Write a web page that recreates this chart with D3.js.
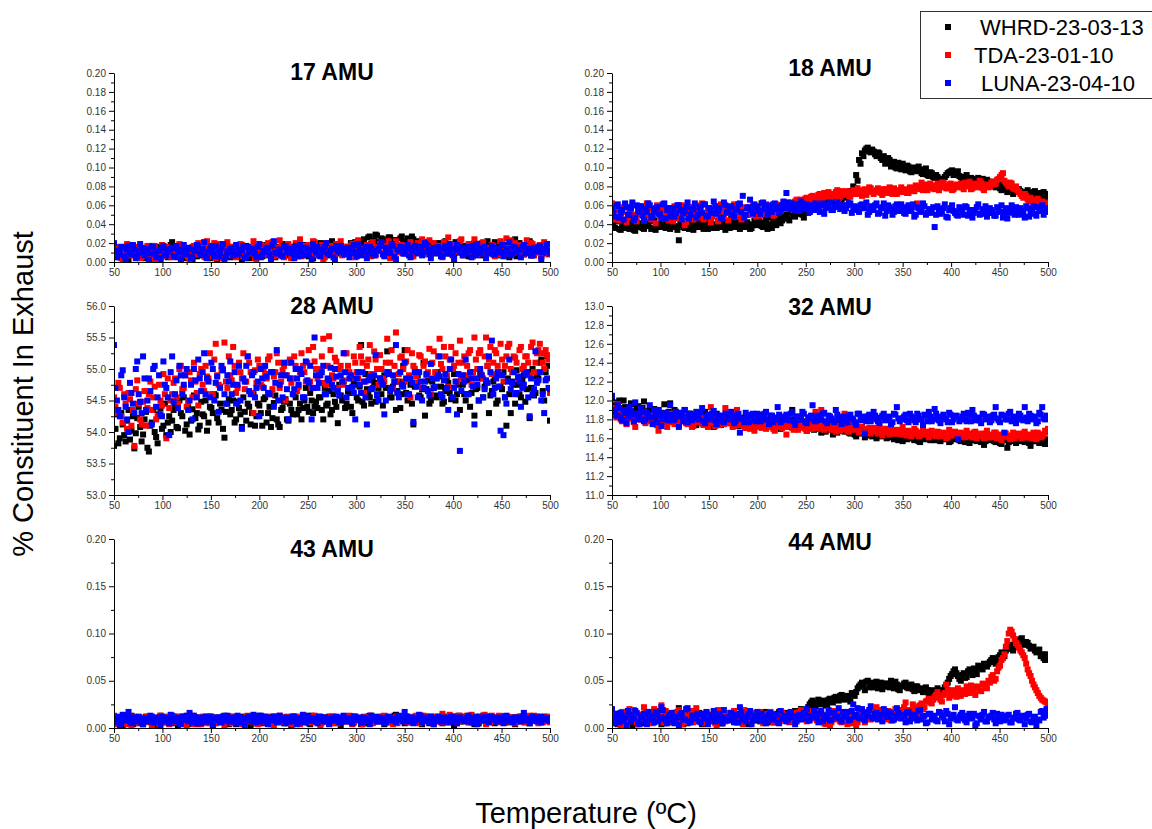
<!DOCTYPE html>
<html>
<head>
<meta charset="utf-8">
<script src="https://cdn.jsdelivr.net/npm/d3@7"></script>
<style>
  body { margin: 0; background: #fff; }
  svg { display: block; }
  text { font-family: Arial, "Liberation Sans", Helvetica, sans-serif; }
</style>
</head>
<body>
<svg id="chart" width="1152" height="829"></svg>
<script>
// Temperature ramp: readings every 3 °C from 50 °C, plus the readings taken halfway between them
const temperature = d3.range(50, 501, 3);        // 50, 53, ..., 500
const temperatureMid = d3.range(51.5, 500, 3);   // 51.5, 54.5, ..., 498.5

const seriesNames = ["WHRD-23-03-13", "TDA-23-01-10", "LUNA-23-04-10"];
const seriesColors = ["#000000", "#ff0000", "#0000ff"];

// Trace species (17, 18, 43, 44 AMU) are listed in units of 0.001 %
const amu17_whrd = [8,14,5,11,16,3,12,9,15,6,10,4,13,17,7,11,2,9,14,6,21,12,5,16,8,10,13,3,15,9,7,14,11,4,17,8,12,6,15,10,5,13,9,16,3,11,14,7,12,8,15,6,10,17,4,12,9,14,19,7,11,5,16,8,13,10,18,6,14,9,12,20,7,15,10,22,8,13,17,11,16,9,14,21,12,18,24,15,27,20,29,17,25,22,19,26,14,23,18,27,21,25,16,24,19,13,22,17,12,20,15,9,18,13,22,10,16,7,14,19,11,17,6,15,20,9,13,18,8,16,12,21,7,14,10,18,5,15,24,11,17,8,13,22,9,16,12,6,14,10,15];
const amu17_whrd_mid = [11,6,15,9,4,13,17,8,12,5,14,9,3,12,16,7,10,13,5,18,9,15,7,11,4,14,10,16,6,12,13,5,17,9,11,3,15,8,12,7,16,10,6,13,9,17,4,11,15,8,12,18,7,10,14,5,16,11,8,13,9,15,6,12,17,8,11,14,4,16,10,13,18,7,15,11,19,9,14,16,12,20,15,18,13,22,17,26,19,23,28,21,24,18,26,20,23,16,25,21,19,24,27,15,22,18,14,21,17,11,16,20,12,15,9,18,13,21,10,14,17,8,13,19,11,15,7,14,22,12,9,16,13,19,8,14,11,17,6,20,13,10,18,7,15,11,16,9,13,19];
const amu17_tda = [6,12,16,3,10,14,18,7,11,4,15,9,13,2,17,8,12,6,16,10,5,14,11,18,7,13,3,16,9,20,12,6,22,10,15,4,19,8,13,21,9,16,5,11,18,7,14,10,22,3,13,17,8,20,11,6,15,23,9,14,19,4,12,16,24,8,13,18,7,21,10,15,2,20,12,17,6,14,22,9,16,11,19,5,23,13,8,18,12,21,7,15,20,10,17,4,14,22,11,18,9,16,21,6,13,19,24,10,15,8,20,12,17,5,14,26,9,18,11,22,7,15,19,12,24,8,16,21,10,14,18,6,13,22,11,25,9,17,20,12,15,8,23,14,19,10,16,6,21,13,11];
const amu17_tda_mid = [9,15,4,12,19,7,13,10,16,5,11,17,7,14,3,12,18,9,15,6,13,8,19,10,15,5,12,17,8,14,10,16,6,13,20,9,14,4,17,11,7,15,12,19,6,13,9,16,4,11,18,8,14,10,21,7,12,16,5,13,15,9,20,11,6,17,10,14,22,8,13,18,5,11,16,9,19,12,7,15,10,17,13,20,8,14,11,18,6,16,12,19,9,15,22,7,13,17,10,14,18,11,6,16,20,12,8,15,23,10,13,17,9,21,11,15,7,18,12,24,10,14,19,6,16,12,20,9,15,11,17,13,8,19,11,15,23,10,14,18,9,16,12,20,7,13,18,11,15,8];
const amu17_luna = [20,5,11,15,3,17,8,13,6,19,10,14,2,16,9,12,4,17,7,13,15,6,11,3,18,9,14,5,12,16,8,21,4,13,10,17,6,15,2,11,14,7,18,9,12,4,16,10,13,5,19,8,11,15,3,22,9,13,6,17,10,14,4,12,18,7,15,9,3,13,16,6,11,20,8,14,2,12,17,9,13,5,15,10,19,7,12,4,16,11,8,14,21,6,13,10,17,3,12,15,9,18,5,14,11,16,7,20,13,4,15,10,12,6,17,9,14,3,18,11,7,13,16,5,12,19,9,15,4,11,17,8,14,10,6,13,21,9,15,12,5,18,10,14,7,12,16,3,11,19,9];
const amu17_luna_mid = [12,8,16,6,13,10,18,4,11,15,7,13,9,16,5,12,15,8,11,14,6,17,10,13,8,15,4,12,18,9,14,7,11,16,6,13,9,19,5,12,10,15,8,13,17,6,11,14,9,16,5,12,15,8,18,10,13,7,16,11,14,9,17,6,12,15,8,13,19,10,7,13,16,9,12,5,17,11,14,8,15,10,18,6,13,11,16,9,14,7,12,17,8,15,10,19,6,13,16,9,14,7,12,17,9,15,11,18,8,13,10,16,6,14,12,19,8,13,16,10,15,9,12,17,7,14,11,16,9,13,8,15,12,18,10,14,7,16,11,13,16,9,13,7,15,11,17,10,14,12];

const amu18_whrd = [40,36,44,34,38,42,35,39,33,37,41,35,38,43,36,34,40,37,45,39,35,42,37,23,39,36,44,38,34,41,37,45,39,35,42,38,36,43,40,34,39,46,37,41,35,43,38,40,36,44,39,42,37,45,40,36,43,48,41,46,50,44,52,48,55,51,47,56,53,58,60,55,62,66,59,64,68,61,70,66,72,68,75,80,92,108,115,118,121,116,117,112,115,108,104,110,101,106,99,103,104,97,101,95,100,96,98,93,99,91,94,89,90,86,88,92,95,97,93,96,90,87,92,85,88,84,89,86,83,87,82,85,79,83,76,80,74,78,72,75,77,73,71,76,72,74,69,73,71,68,72];
const amu18_whrd_mid = [37,43,35,40,36,44,38,34,41,39,36,42,38,35,44,39,37,42,36,40,43,38,34,40,37,42,35,39,45,37,41,35,43,38,36,40,44,37,39,42,36,41,38,44,40,37,42,35,39,41,44,38,41,35,47,42,39,46,44,49,46,53,49,51,56,50,55,52,57,60,57,63,60,65,62,67,63,69,65,72,70,74,73,78,86,104,112,120,117,119,114,116,110,112,105,108,103,100,105,98,100,102,96,99,97,101,94,97,92,95,90,92,88,87,90,94,96,92,95,91,88,90,86,89,83,87,85,88,84,85,80,83,81,78,82,77,79,76,74,77,75,70,74,73,70,75,71,70,74,70];
const amu18_tda = [62,45,55,48,58,42,52,60,47,54,50,44,62,49,56,41,53,59,46,51,57,43,55,48,60,39,52,58,45,54,49,62,47,56,42,53,59,46,51,57,44,55,61,48,53,47,58,50,56,52,59,49,55,61,53,57,50,60,54,63,56,61,58,64,60,66,62,68,64,70,66,71,68,73,69,72,70,74,67,75,71,73,69,76,72,75,70,77,74,78,72,76,74,71,77,73,75,78,72,76,74,77,73,78,75,62,80,76,82,78,80,77,83,79,84,78,82,76,81,79,83,77,80,85,78,82,79,84,76,81,80,85,83,88,92,86,82,84,78,80,74,70,72,66,68,63,65,61,64,62,60];
const amu18_tda_mid = [50,58,44,53,61,47,56,50,43,59,52,47,57,45,54,60,48,55,50,44,53,59,46,51,56,42,58,49,54,47,60,45,52,57,48,55,43,61,50,53,56,48,52,59,45,57,50,54,60,48,55,62,51,58,56,49,61,53,58,57,59,63,55,66,61,64,67,60,69,65,68,72,65,70,74,68,71,76,69,73,75,70,74,72,78,73,76,71,79,75,74,78,73,77,75,79,72,76,74,79,76,73,79,75,81,77,84,79,76,83,78,81,76,84,80,78,83,77,82,80,79,84,81,77,83,80,86,78,82,79,84,82,87,90,94,84,80,83,77,76,72,68,70,64,66,62,67,63,61,63];
const amu18_luna = [56,48,61,52,45,58,50,63,47,54,59,44,53,60,49,57,51,46,62,55,48,57,52,60,45,54,63,50,56,47,58,52,61,49,55,64,51,57,46,60,53,59,48,56,62,70,50,58,55,61,57,51,63,56,60,53,62,58,55,64,73,58,62,55,60,64,57,61,53,59,62,56,60,51,58,63,55,59,61,57,54,60,62,56,58,53,61,57,50,59,55,62,52,58,49,60,56,53,61,54,57,51,60,55,48,58,53,62,50,56,52,37,59,51,57,48,55,60,52,49,56,50,58,53,47,55,61,51,54,48,57,52,49,55,60,51,46,56,53,58,50,54,47,57,52,59,49,55,60,53,56];
const amu18_luna_mid = [52,59,47,55,62,50,57,44,60,53,49,56,62,47,54,58,51,61,46,57,53,48,60,55,51,58,46,56,62,50,55,61,48,57,52,59,54,47,63,52,58,50,55,61,53,47,57,66,51,59,54,62,57,50,59,61,56,52,60,57,63,56,59,61,54,62,58,56,60,55,59,53,62,57,60,55,58,63,56,60,57,62,52,59,55,60,57,63,53,58,60,51,57,62,54,58,50,59,55,61,52,58,54,61,50,57,55,59,52,54,58,50,56,53,61,47,57,54,50,58,53,59,49,55,52,58,50,56,59,52,55,49,58,53,47,57,52,60,50,55,57,52,59,48,56,51,58,54,50,57];

// Major gases (28, 32 AMU) in %
const amu28_whrd = [53.78,54.28,53.9,54.12,53.85,54.35,54.02,53.74,54.22,54.08,53.96,54.32,53.69,54.15,54.0,53.82,54.38,54.1,53.95,54.25,54.18,54.42,54.06,54.3,54.55,54.12,53.96,54.36,54.22,54.04,54.48,54.25,54.02,54.4,54.3,54.58,54.15,54.35,53.91,54.45,54.28,54.5,54.2,54.38,54.08,54.32,54.45,54.12,54.6,54.25,54.42,54.1,54.55,54.3,54.08,54.46,54.2,54.08,54.38,54.52,54.18,54.35,54.6,54.28,54.45,54.38,54.7,54.32,54.5,54.4,54.38,54.55,54.2,54.42,54.65,54.35,54.48,54.14,54.58,54.8,54.45,54.62,54.3,54.75,54.5,55.38,54.42,54.68,54.55,54.85,54.48,54.7,54.6,54.9,55.28,54.55,54.72,54.35,54.8,54.6,55.3,54.5,54.75,54.12,54.95,54.58,54.68,54.26,54.82,54.5,54.7,54.55,54.88,54.45,54.65,54.78,54.52,54.92,54.6,54.35,54.75,54.5,54.85,54.62,54.26,54.7,54.92,54.55,54.8,54.3,54.65,54.88,54.5,54.72,54.95,54.1,54.6,54.8,54.45,54.75,54.55,54.9,54.68,54.22,55.0,54.62,54.85,55.15,54.5,55.2,54.18];
const amu28_whrd_mid = [54.05,53.82,54.3,53.95,54.18,53.88,54.25,53.98,54.4,53.85,54.2,53.75,54.1,54.35,53.92,54.28,54.05,54.45,54.15,54.0,54.35,54.08,54.5,54.25,54.02,54.4,54.18,54.58,54.3,54.1,54.28,54.5,54.15,54.38,54.6,54.22,54.45,54.05,54.32,54.52,54.35,54.15,54.48,54.28,54.55,54.18,54.4,54.3,54.1,54.45,54.3,54.52,54.15,54.4,54.22,54.58,54.12,54.35,54.48,54.2,54.45,54.28,54.55,54.35,54.2,54.5,54.4,54.62,54.3,54.48,54.55,54.35,54.7,54.45,54.28,54.6,54.4,54.75,54.5,54.38,54.65,54.4,54.8,54.55,54.72,54.48,54.92,54.6,54.45,54.78,54.58,54.85,54.42,54.7,54.95,54.55,54.8,54.65,54.38,55.05,54.62,54.85,54.45,54.72,54.9,54.55,55.1,54.68,54.45,54.8,54.58,54.95,54.72,54.48,54.85,54.62,55.0,54.5,54.75,54.88,54.6,54.82,54.4,54.95,54.68,54.5,54.85,54.72,55.05,54.58,54.8,54.45,54.92,54.68,54.55,54.85,54.3,54.75,54.98,54.6,54.82,54.48,54.95,54.7,54.58,54.88,55.1,54.65,54.95,55.05];
const amu28_tda = [54.55,54.3,54.7,54.15,54.45,54.62,54.1,53.78,54.82,54.2,54.48,54.1,54.6,54.35,54.72,54.25,54.5,54.92,53.9,54.38,54.6,54.85,54.45,55.05,54.7,54.4,54.95,54.55,54.8,54.42,55.0,54.65,54.88,55.25,54.6,55.4,54.75,54.98,55.42,54.7,54.9,55.35,54.62,55.1,54.85,54.68,55.2,54.95,54.3,54.78,55.05,54.72,54.92,55.15,54.6,54.88,55.25,54.7,54.98,54.5,55.1,54.78,55.2,54.65,54.95,55.05,54.8,55.3,54.7,55.12,54.85,55.0,55.48,54.75,55.52,54.9,55.18,54.7,55.05,54.82,55.25,54.95,54.7,55.1,54.85,55.2,54.62,55.05,55.38,54.9,55.15,54.75,55.0,54.8,55.48,55.1,54.68,55.58,54.92,55.2,54.8,55.3,54.55,55.05,54.88,55.22,54.7,55.12,54.95,54.6,55.28,54.85,55.48,55.0,55.2,54.72,55.35,55.05,54.8,55.45,55.1,54.9,55.25,54.75,55.5,55.0,55.3,54.85,55.5,55.15,54.92,55.3,55.05,55.4,54.8,55.2,55.4,54.95,55.18,54.85,55.35,55.05,55.2,54.9,55.42,55.1,55.3,55.25,55.0,55.22,54.62];
const amu28_tda_mid = [54.4,54.78,54.25,54.6,54.05,54.52,54.35,54.68,54.45,54.12,54.65,54.38,54.8,54.55,54.2,54.75,54.42,54.6,54.85,54.5,54.78,54.55,55.0,54.68,54.9,54.48,54.82,55.1,54.62,54.92,54.75,55.05,54.85,54.6,55.15,54.9,54.72,55.0,54.8,55.2,54.82,55.05,54.7,54.95,55.25,54.8,55.1,54.62,54.98,55.15,54.75,55.0,54.85,55.2,54.68,54.95,55.1,54.8,55.05,54.9,55.15,54.85,55.05,54.72,55.25,54.95,55.1,54.8,55.35,55.0,54.9,55.2,54.78,55.05,55.3,54.85,55.12,55.0,54.75,55.25,55.05,54.85,55.2,54.95,55.35,55.1,54.8,55.15,54.92,55.28,55.0,55.22,54.85,55.1,54.95,55.3,55.05,54.8,55.18,55.0,55.12,54.9,55.25,55.0,54.78,55.2,55.05,54.9,55.32,55.1,54.95,55.2,55.08,55.35,54.9,55.15,55.0,55.25,55.1,54.85,55.2,55.05,55.3,54.95,55.15,55.25,54.9,55.2,55.05,55.35,55.1,55.25,54.95,55.15,55.05,55.35,55.0,55.2,55.1,55.3,55.0,55.2,55.1,55.35,54.95,55.25,55.4,55.1,55.3,55.15];
const amu28_luna = [55.38,54.5,54.25,54.98,54.4,54.0,54.62,54.3,55.12,54.48,55.2,54.35,54.85,54.12,55.05,54.55,54.28,55.12,54.7,53.95,55.2,54.6,54.38,54.9,54.75,55.0,54.5,54.2,54.82,55.15,54.65,55.25,54.85,54.55,55.0,54.78,54.32,55.05,54.6,54.9,55.12,54.75,54.45,55.05,54.05,54.8,55.2,54.6,54.95,54.7,54.25,54.85,55.05,54.62,54.95,54.4,55.3,54.75,54.55,54.9,54.2,55.1,54.68,54.85,55.0,54.55,55.12,54.78,54.2,55.5,54.7,54.9,55.05,54.6,54.82,54.75,55.0,54.65,54.9,55.25,54.55,54.85,54.72,54.2,54.95,54.62,54.8,54.12,54.88,54.7,55.22,54.5,54.8,54.28,54.95,54.65,54.9,55.38,54.55,54.75,55.1,54.6,54.85,54.16,54.72,54.95,54.5,54.8,54.65,55.08,54.7,54.85,55.2,54.55,54.92,54.35,55.15,54.7,54.28,53.7,54.9,55.15,54.6,54.85,54.12,54.75,55.0,54.55,54.82,55.2,55.45,54.7,54.95,54.02,53.95,54.45,55.15,54.78,54.6,54.88,54.4,54.75,54.95,54.25,54.6,55.28,54.82,54.5,54.3,54.85,54.68];
const amu28_luna_mid = [54.7,54.35,54.9,54.55,54.2,54.78,54.45,55.0,54.6,54.3,54.85,54.5,54.65,55.0,54.4,54.9,54.25,54.75,54.55,54.95,54.48,54.82,55.05,54.6,54.9,54.35,54.75,55.0,54.55,54.85,54.95,54.6,54.8,55.1,54.5,54.88,54.7,54.98,54.45,54.8,54.6,54.95,54.75,54.5,54.85,55.05,54.65,54.9,54.55,54.8,55.0,54.7,54.88,54.6,54.95,54.78,54.5,54.9,55.1,54.68,54.85,54.6,55.0,54.75,54.92,54.55,54.82,55.05,54.7,54.9,54.78,54.95,54.6,54.85,55.02,54.7,54.88,54.58,54.8,54.95,54.7,54.9,54.62,54.85,54.75,54.95,54.55,54.82,54.68,54.9,54.6,54.85,54.75,54.5,54.92,54.7,54.8,54.62,54.95,54.72,54.85,54.6,54.78,54.95,54.55,54.8,54.7,54.92,54.58,54.85,54.72,54.9,54.6,54.82,54.7,55.0,54.55,54.8,54.92,54.65,54.8,54.6,54.95,54.72,54.85,54.5,54.9,54.68,54.78,54.95,54.6,54.85,54.72,54.9,54.55,54.8,54.68,54.95,54.62,54.8,54.7,54.92,54.55,54.85,54.68,54.78,54.95,54.6,54.82,54.7];

const amu32_whrd = [12.02,11.92,11.98,11.85,12.0,11.9,11.82,11.96,11.88,11.94,11.86,11.99,11.8,11.92,11.84,11.78,11.9,11.82,11.96,11.85,11.97,11.8,11.88,11.75,11.84,11.9,11.78,11.86,11.81,11.74,11.85,11.79,11.88,11.76,11.83,11.72,11.86,11.8,11.77,11.84,11.78,11.82,11.74,11.88,11.8,11.75,11.71,11.84,11.79,11.73,11.81,11.76,11.85,11.72,11.78,11.83,11.74,11.8,11.7,11.77,11.82,11.74,11.9,11.76,11.71,11.8,11.75,11.68,11.78,11.73,11.7,11.76,11.66,11.74,11.69,11.72,11.64,11.75,11.68,11.71,11.67,11.73,11.65,11.7,11.62,11.68,11.72,11.61,11.66,11.64,11.69,11.6,11.66,11.63,11.67,11.61,11.65,11.59,11.64,11.62,11.57,11.63,11.6,11.65,11.58,11.62,11.56,11.64,11.59,11.61,11.63,11.58,11.62,11.57,11.64,11.6,11.56,11.62,11.59,11.61,11.57,11.63,11.59,11.55,11.61,11.58,11.62,11.56,11.53,11.6,11.58,11.62,11.56,11.6,11.54,11.59,11.5,11.57,11.61,11.55,11.58,11.6,11.56,11.62,11.52,11.59,11.57,11.55,11.6,11.54,11.58];
const amu32_whrd_mid = [11.95,11.88,12.0,11.84,11.93,11.87,11.97,11.83,11.91,11.86,11.92,11.82,11.89,11.84,11.91,11.8,11.87,11.83,11.79,11.88,11.83,11.9,11.79,11.85,11.8,11.77,11.86,11.82,11.78,11.84,11.8,11.75,11.83,11.79,11.86,11.78,11.81,11.74,11.82,11.79,11.76,11.83,11.8,11.73,11.79,11.82,11.76,11.8,11.74,11.78,11.77,11.82,11.74,11.79,11.76,11.72,11.81,11.75,11.78,11.73,11.77,11.72,11.8,11.7,11.76,11.73,11.78,11.71,11.74,11.69,11.74,11.7,11.72,11.67,11.73,11.69,11.71,11.66,11.7,11.68,11.71,11.66,11.69,11.64,11.7,11.65,11.67,11.63,11.68,11.62,11.65,11.67,11.62,11.66,11.6,11.64,11.62,11.65,11.58,11.63,11.61,11.59,11.64,11.6,11.62,11.57,11.61,11.6,11.63,11.58,11.6,11.62,11.58,11.63,11.59,11.61,11.57,11.6,11.63,11.58,11.6,11.56,11.62,11.58,11.6,11.57,11.59,11.61,11.57,11.59,11.6,11.57,11.61,11.55,11.58,11.62,11.56,11.59,11.58,11.6,11.57,11.61,11.58,11.55,11.6,11.57,11.59,11.62,11.56,11.59];
const amu32_tda = [11.92,11.85,11.96,11.8,11.88,11.75,11.9,11.82,11.72,11.86,11.8,11.88,11.78,11.84,11.76,11.9,11.68,11.82,11.79,11.72,11.86,11.77,11.83,11.74,11.8,11.88,11.75,11.81,11.73,11.79,11.84,11.76,11.8,11.72,11.93,11.78,11.82,11.74,11.79,11.92,11.77,11.81,11.73,11.9,11.76,11.8,11.71,11.78,11.74,11.68,11.79,11.73,11.77,11.7,11.75,11.8,11.68,11.76,11.72,11.74,11.64,11.78,11.71,11.75,11.69,11.8,11.72,11.68,11.75,11.7,11.88,11.72,11.9,11.69,11.75,11.71,11.77,11.67,11.73,11.7,11.86,11.68,11.74,11.7,11.76,11.66,11.72,11.69,11.82,11.65,11.71,11.67,11.74,11.63,11.7,11.68,11.73,11.65,11.69,11.66,11.72,11.64,11.68,11.62,11.7,11.66,11.63,11.69,11.65,11.61,11.68,11.64,11.67,11.62,11.66,11.6,11.69,11.64,11.67,11.63,11.66,11.62,11.68,11.64,11.61,11.67,11.63,11.65,11.6,11.68,11.64,11.61,11.66,11.63,11.58,11.65,11.62,11.59,11.66,11.62,11.65,11.6,11.67,11.63,11.61,11.66,11.59,11.64,11.62,11.68,11.7];
const amu32_tda_mid = [11.88,11.82,11.9,11.78,11.85,11.81,11.87,11.77,11.84,11.8,11.84,11.76,11.83,11.8,11.86,11.74,11.81,11.77,11.83,11.78,11.8,11.75,11.82,11.78,11.84,11.76,11.79,11.72,11.8,11.77,11.79,11.74,11.81,11.76,11.78,11.73,11.8,11.77,11.75,11.79,11.76,11.72,11.79,11.74,11.77,11.73,11.75,11.7,11.77,11.72,11.75,11.71,11.74,11.77,11.72,11.7,11.76,11.73,11.71,11.75,11.72,11.74,11.69,11.73,11.71,11.75,11.7,11.72,11.74,11.71,11.73,11.7,11.74,11.71,11.72,11.69,11.73,11.7,11.68,11.72,11.7,11.67,11.72,11.69,11.71,11.67,11.7,11.66,11.71,11.68,11.69,11.65,11.68,11.66,11.7,11.64,11.67,11.65,11.68,11.64,11.67,11.63,11.66,11.64,11.68,11.62,11.66,11.64,11.67,11.63,11.65,11.62,11.66,11.63,11.65,11.61,11.66,11.63,11.64,11.62,11.64,11.61,11.65,11.62,11.66,11.6,11.64,11.62,11.65,11.61,11.63,11.66,11.6,11.64,11.62,11.65,11.61,11.63,11.6,11.64,11.62,11.65,11.61,11.64,11.6,11.63,11.66,11.61,11.64,11.66];
const amu32_luna = [12.05,11.88,11.95,11.82,11.9,11.76,11.93,11.85,11.98,11.8,11.92,11.78,11.87,11.95,11.75,11.84,11.9,11.73,11.86,11.82,11.95,11.79,11.88,11.72,11.84,11.9,11.77,11.85,11.81,11.88,11.8,11.92,11.76,11.85,11.82,11.89,11.75,11.84,11.78,11.86,11.82,11.88,11.76,11.84,11.66,11.8,11.87,11.77,11.85,11.79,11.86,11.78,11.83,11.88,11.75,11.84,11.8,11.93,11.77,11.82,11.85,11.79,11.88,11.74,11.83,11.8,11.86,11.76,11.82,11.95,11.78,11.84,11.8,11.87,11.76,11.83,11.79,11.9,11.81,11.75,11.82,11.77,11.85,11.8,11.74,11.86,11.79,11.65,11.83,11.78,11.88,11.8,11.76,11.84,11.79,11.82,11.75,11.86,11.93,11.78,11.81,11.85,11.77,11.83,11.79,11.86,11.8,11.74,11.84,11.88,11.78,11.91,11.82,11.76,11.85,11.8,11.87,11.77,11.83,11.59,11.8,11.86,11.78,11.84,11.9,11.79,11.82,11.76,11.85,11.81,11.77,11.84,11.93,11.79,11.85,11.66,11.8,11.88,11.82,11.76,11.86,11.8,11.93,11.78,11.84,11.81,11.76,11.87,11.93,11.8,11.82];
const amu32_luna_mid = [11.9,11.84,11.92,11.79,11.87,11.83,11.89,11.78,11.86,11.82,11.88,11.8,11.85,11.82,11.9,11.77,11.84,11.8,11.87,11.79,11.85,11.8,11.83,11.87,11.78,11.82,11.86,11.79,11.84,11.81,11.87,11.78,11.83,11.8,11.86,11.79,11.84,11.81,11.77,11.85,11.8,11.84,11.78,11.86,11.81,11.77,11.83,11.8,11.86,11.78,11.83,11.79,11.86,11.8,11.84,11.77,11.82,11.85,11.79,11.83,11.8,11.86,11.78,11.83,11.8,11.88,11.77,11.82,11.84,11.79,11.83,11.8,11.86,11.78,11.84,11.81,11.77,11.85,11.8,11.83,11.79,11.84,11.81,11.77,11.86,11.8,11.83,11.78,11.85,11.81,11.84,11.78,11.82,11.86,11.8,11.83,11.77,11.85,11.81,11.8,11.83,11.79,11.86,11.81,11.77,11.84,11.8,11.85,11.78,11.83,11.8,11.86,11.79,11.83,11.81,11.77,11.85,11.8,11.84,11.78,11.83,11.8,11.87,11.78,11.84,11.81,11.79,11.86,11.8,11.83,11.79,11.85,11.81,11.77,11.84,11.8,11.86,11.78,11.83,11.81,11.84,11.79,11.82,11.86,11.8,11.83,11.78,11.85,11.81,11.84];

const amu43_whrd = [12,6,9,3,11,7,13,5,8,10,4,12,7,10,2,9,13,6,11,5,8,12,3,10,7,13,5,9,11,4,10,6,12,8,3,11,7,9,13,5,8,11,4,10,6,12,9,3,11,7,13,5,9,10,4,12,7,8,11,6,10,3,12,8,6,11,9,5,13,7,9,4,11,7,12,6,10,8,3,12,7,10,5,12,9,4,11,8,13,6,10,7,12,4,9,11,6,14,8,10,5,12,9,7,11,13,4,10,8,12,6,9,11,5,12,8,10,3,11,7,12,9,6,10,4,11,8,13,7,9,11,5,10,8,12,6,9,11,4,10,7,12,9,5,11,8,10,6,12,9,11];
const amu43_whrd_mid = [8,11,5,10,7,12,4,9,11,6,10,7,12,5,9,11,6,10,8,12,5,9,11,7,10,4,12,8,9,11,6,10,8,12,5,9,11,7,10,4,12,8,9,11,6,10,7,12,5,9,11,8,10,6,12,9,7,11,5,10,8,12,6,9,11,7,10,4,12,8,10,6,11,9,5,12,8,10,7,11,9,12,6,10,8,11,5,12,9,7,11,8,10,12,6,9,13,7,10,8,12,6,9,11,7,10,8,12,5,11,9,7,12,8,10,6,11,9,13,7,10,12,7,9,11,5,10,8,12,9,7,11,9,12,6,10,8,11,7,12,9,6,11,8,10,12,7,9,11,8];
const amu43_tda = [13,4,8,11,6,10,3,12,7,9,5,11,8,2,10,7,13,6,9,4,11,7,12,5,9,3,10,13,6,8,4,10,7,12,9,5,11,8,3,10,12,6,9,11,4,8,13,7,10,5,9,12,6,8,11,3,10,13,7,9,5,11,8,12,4,9,7,10,6,13,8,3,11,9,6,12,10,5,8,11,7,13,4,9,10,6,12,8,11,5,9,11,7,13,6,10,4,12,8,9,11,6,10,8,13,5,9,12,7,10,4,11,8,15,6,10,9,12,5,13,8,11,6,14,9,7,12,10,4,11,13,8,10,6,12,9,7,11,5,10,12,6,9,13,8,11,5,10,7,12,6];
const amu43_tda_mid = [9,6,11,8,4,12,7,10,5,11,8,12,6,9,11,4,10,7,12,8,6,10,9,12,5,11,8,4,10,7,12,8,5,11,9,6,10,12,7,9,5,11,8,10,6,12,9,7,11,4,10,7,12,9,5,11,8,10,6,12,9,4,11,7,10,13,6,9,12,8,11,6,10,8,12,5,9,11,7,10,8,12,6,10,9,4,11,8,13,7,10,9,12,6,11,8,10,5,12,9,7,11,9,12,6,10,13,8,11,7,12,9,6,11,10,14,8,12,7,11,9,13,11,7,10,12,8,14,9,6,11,8,13,10,7,12,9,6,11,10,8,12,7,10,13,9,11,6,10,8];
const amu43_luna = [6,10,3,14,8,17,5,11,7,9,4,10,7,12,6,9,3,11,8,5,13,7,10,4,12,9,16,6,11,8,5,10,7,12,4,9,11,6,8,13,7,10,5,12,9,3,11,8,14,6,10,7,12,4,9,11,6,13,8,5,10,7,12,4,9,14,6,11,8,10,5,12,7,9,4,11,8,10,6,13,7,10,5,12,9,6,11,8,4,10,12,7,9,5,11,8,10,6,13,9,17,7,11,5,9,14,6,10,8,12,4,9,11,7,10,6,12,8,5,11,9,7,13,6,10,4,11,8,12,6,9,11,7,10,5,13,8,6,11,9,7,16,10,5,12,8,9,6,11,10,8];
const amu43_luna_mid = [9,12,6,10,13,7,11,8,12,5,10,8,13,6,11,9,12,7,10,14,8,11,6,12,9,7,10,13,5,11,9,12,7,10,8,11,6,12,9,7,11,8,13,6,10,9,12,7,11,8,13,9,7,11,8,12,6,10,9,11,7,12,9,10,6,11,13,8,10,7,12,9,11,7,10,8,12,6,11,9,10,7,12,9,11,6,10,8,13,9,7,11,10,6,12,9,8,11,10,7,12,9,11,7,10,13,8,11,6,10,9,12,7,11,8,10,12,6,11,9,8,11,10,6,12,9,11,8,10,12,10,7,11,9,12,8,10,6,11,9,12,8,10,9,11,7,12,9,10,8];

const amu44_whrd = [8,14,4,11,17,6,12,3,15,9,13,5,10,16,7,12,18,4,11,8,14,6,10,21,9,13,5,15,8,11,16,4,12,9,14,7,17,10,5,13,8,15,11,6,13,9,16,4,12,10,14,7,11,17,9,13,6,15,10,12,16,9,13,18,11,20,14,17,25,29,22,30,26,28,24,31,27,33,29,35,30,34,28,36,38,44,48,40,50,46,43,49,45,41,47,44,50,42,46,40,45,48,42,46,39,44,41,38,43,36,40,37,42,35,39,45,52,57,62,55,50,58,54,62,56,60,66,63,68,65,70,74,68,75,80,76,84,88,82,90,92,95,88,90,84,86,80,83,78,72,76];
const amu44_whrd_mid = [12,5,15,9,13,7,16,10,4,14,8,12,17,6,11,14,9,13,5,15,10,16,7,12,4,14,11,8,17,9,13,6,15,11,8,12,16,5,10,14,9,13,7,15,11,5,14,10,16,8,12,15,9,13,6,14,10,17,8,13,11,15,12,16,14,19,16,22,27,24,27,25,29,24,30,28,32,30,34,31,33,31,37,34,42,46,44,49,43,48,46,42,48,44,47,43,45,49,41,44,47,43,45,41,44,40,42,38,40,37,39,36,40,38,43,48,55,60,58,52,56,53,60,58,63,57,64,62,66,68,72,70,73,77,78,82,86,84,87,92,94,90,91,87,85,82,81,76,74,78];
const amu44_tda = [18,6,12,3,15,9,20,7,13,4,11,22,8,14,5,17,10,24,6,12,15,7,11,19,4,13,9,16,6,21,10,14,5,12,8,17,3,11,15,7,13,9,18,6,12,4,16,10,7,14,11,17,5,13,9,15,7,12,18,8,14,6,11,16,9,19,12,7,15,10,13,17,8,5,14,3,18,9,12,6,11,4,15,7,3,20,13,6,17,9,14,22,10,16,12,18,8,15,11,19,13,27,9,17,21,14,24,20,28,31,26,33,38,30,35,46,32,40,36,42,34,38,44,37,41,35,43,39,46,42,48,56,52,64,72,78,92,104,98,90,85,80,74,62,55,46,40,34,30,28,25];
const amu44_tda_mid = [10,15,5,17,8,13,11,19,6,14,9,16,12,7,20,10,14,6,18,11,13,8,17,10,14,6,12,18,9,15,12,7,16,10,13,5,19,8,14,11,16,10,7,14,11,19,8,13,9,16,12,8,15,10,17,6,13,11,16,9,11,15,8,13,17,10,14,9,18,12,8,15,11,4,9,6,13,16,7,12,8,14,5,10,6,16,9,12,15,11,17,12,19,14,9,16,13,20,12,17,22,15,19,25,18,23,26,22,29,27,30,35,32,28,37,40,34,38,33,39,40,36,42,45,38,44,40,47,43,50,54,50,60,66,74,86,100,102,94,88,82,77,68,58,50,43,37,32,29,27];
const amu44_luna = [20,5,12,16,8,3,14,10,18,6,11,15,4,13,9,17,7,22,10,5,14,8,12,3,16,9,21,6,13,11,7,15,10,4,12,18,8,14,5,11,9,16,6,13,22,10,7,15,4,12,17,8,11,5,14,9,13,6,18,10,7,15,11,4,13,9,16,20,8,12,14,6,18,10,13,8,16,11,21,7,12,17,9,25,14,11,20,8,15,23,10,16,13,7,18,12,15,9,21,11,14,6,17,10,13,8,19,12,5,15,9,13,7,16,11,18,4,12,22,8,14,10,6,15,11,3,13,9,17,7,12,16,5,11,14,8,13,6,10,15,9,12,4,14,7,11,3,8,18,13,16];
const amu44_luna_mid = [9,15,6,13,11,18,7,12,16,4,13,8,17,10,6,14,11,19,8,12,16,5,11,14,9,20,7,13,10,15,6,12,17,9,13,7,15,11,19,8,12,10,14,6,16,9,12,18,8,13,10,15,7,12,16,9,14,5,11,13,9,17,12,7,14,10,15,8,13,18,11,15,7,13,19,9,16,12,10,17,14,8,18,12,21,10,16,13,19,11,15,9,14,20,12,17,8,13,16,10,12,16,7,14,11,18,9,13,6,15,11,8,17,13,7,15,10,14,9,12,16,8,13,10,15,5,12,14,7,11,13,9,15,7,12,10,14,6,11,16,8,13,10,15,6,12,9,17,11,20];

// Axis tick labels
const xTickLabels = [50, 100, 150, 200, 250, 300, 350, 400, 450, 500];
const traceTicks = [0, 0.02, 0.04, 0.06, 0.08, 0.10, 0.12, 0.14, 0.16, 0.18, 0.20];
const traceTicksCoarse = [0, 0.05, 0.10, 0.15, 0.20];
const n2Ticks = [53.0, 53.5, 54.0, 54.5, 55.0, 55.5, 56.0];
const o2Ticks = [11.0, 11.2, 11.4, 11.6, 11.8, 12.0, 12.2, 12.4, 12.6, 12.8, 13.0];

const milli = a => a.map(v => v / 1000);
// Pair each reading with its temperature (grid readings followed by the in-between readings)
const readings = (main, mid, scale = 1) =>
  main.map((v, i) => [temperature[i], v * scale])
    .concat(mid.map((v, k) => [temperatureMid[k], v * scale]));

// Panel layout
const colX = [114, 612];
const rowY = [73, 306, 539];
const plotW = 436, plotH = 189;
const m = 0.001;

const panels = [
  { title: "17 AMU", col: 0, row: 0, titleY: 80,
    series: [readings(amu17_whrd, amu17_whrd_mid, m), readings(amu17_tda, amu17_tda_mid, m), readings(amu17_luna, amu17_luna_mid, m)],
    domain: [0, 0.2], ticks: traceTicks, fmt: ".2f" },
  { title: "18 AMU", col: 1, row: 0, titleY: 76,
    series: [readings(amu18_whrd, amu18_whrd_mid, m), readings(amu18_tda, amu18_tda_mid, m), readings(amu18_luna, amu18_luna_mid, m)],
    domain: [0, 0.2], ticks: traceTicks, fmt: ".2f" },
  { title: "28 AMU", col: 0, row: 1, titleY: 314,
    series: [readings(amu28_whrd, amu28_whrd_mid), readings(amu28_tda, amu28_tda_mid), readings(amu28_luna, amu28_luna_mid)],
    domain: [53, 56], ticks: n2Ticks, fmt: ".1f" },
  { title: "32 AMU", col: 1, row: 1, titleY: 315,
    series: [readings(amu32_whrd, amu32_whrd_mid), readings(amu32_tda, amu32_tda_mid), readings(amu32_luna, amu32_luna_mid)],
    domain: [11, 13], ticks: o2Ticks, fmt: ".1f" },
  { title: "43 AMU", col: 0, row: 2, titleY: 557,
    series: [readings(amu43_whrd, amu43_whrd_mid, m), readings(amu43_tda, amu43_tda_mid, m), readings(amu43_luna, amu43_luna_mid, m)],
    domain: [0, 0.2], ticks: traceTicksCoarse, fmt: ".2f" },
  { title: "44 AMU", col: 1, row: 2, titleY: 550,
    series: [readings(amu44_whrd, amu44_whrd_mid, m), readings(amu44_tda, amu44_tda_mid, m), readings(amu44_luna, amu44_luna_mid, m)],
    domain: [0, 0.2], ticks: traceTicksCoarse, fmt: ".2f" }
];

const svg = d3.select("#chart");
const FONT = 'Arial, "Liberation Sans", Helvetica, sans-serif';
const markerSize = 6;

function midpoints(arr) {
  const out = [];
  for (let i = 0; i < arr.length - 1; i++) out.push((arr[i] + arr[i + 1]) / 2);
  return out;
}

function styleAxis(g) {
  g.select(".domain").attr("stroke", "#000").attr("stroke-width", 1);
  g.selectAll(".tick line").attr("stroke", "#000").attr("stroke-width", 1);
  g.selectAll(".tick text").attr("font-family", FONT).attr("font-size", 10).attr("fill", "#333");
}

panels.forEach((p, pi) => {
  const left = colX[p.col], top = rowY[p.row];
  const x = d3.scaleLinear().domain([50, 500]).range([left, left + plotW]);
  const y = d3.scaleLinear().domain(p.domain).range([top + plotH, top]);

  const clipId = "clip" + pi;
  svg.append("clipPath").attr("id", clipId)
    .append("rect").attr("x", left).attr("y", top).attr("width", plotW).attr("height", plotH);

  const marks = svg.append("g").attr("clip-path", `url(#${clipId})`);
  p.series.forEach((pts, si) => {
    marks.append("g").selectAll("rect")
      .data(pts)
      .join("rect")
      .attr("x", d => x(d[0]) - markerSize / 2)
      .attr("y", d => y(d[1]) - markerSize / 2)
      .attr("width", markerSize)
      .attr("height", markerSize)
      .attr("fill", seriesColors[si]);
  });

  // minor ticks
  svg.append("g").attr("transform", `translate(${left},0)`)
    .call(d3.axisLeft(y).tickValues(midpoints(p.ticks)).tickSize(3).tickFormat(""))
    .call(g => g.select(".domain").remove())
    .call(g => g.selectAll("line").attr("stroke", "#000"));
  svg.append("g").attr("transform", `translate(0,${top + plotH})`)
    .call(d3.axisBottom(x).tickValues(midpoints(xTickLabels)).tickSize(3).tickFormat(""))
    .call(g => g.select(".domain").remove())
    .call(g => g.selectAll("line").attr("stroke", "#000"));

  // major axes
  svg.append("g").attr("transform", `translate(${left},0)`)
    .call(d3.axisLeft(y).tickValues(p.ticks).tickSize(5).tickSizeOuter(0).tickPadding(3).tickFormat(d3.format(p.fmt)))
    .call(styleAxis);
  svg.append("g").attr("transform", `translate(0,${top + plotH})`)
    .call(d3.axisBottom(x).tickValues(xTickLabels).tickSize(5).tickSizeOuter(0).tickPadding(2).tickFormat(d3.format("d")))
    .call(styleAxis);

  svg.append("text")
    .attr("x", left + plotW / 2)
    .attr("y", p.titleY)
    .attr("text-anchor", "middle")
    .attr("font-family", FONT)
    .attr("font-weight", "bold")
    .attr("font-size", 23)
    .attr("fill", "#000")
    .text(p.title);
});

// Axis titles
svg.append("text")
  .attr("x", 586).attr("y", 823)
  .attr("text-anchor", "middle")
  .attr("font-family", FONT).attr("font-size", 29).attr("fill", "#000")
  .text("Temperature (ºC)");

svg.append("text")
  .attr("transform", "translate(33,394) rotate(-90)")
  .attr("text-anchor", "middle")
  .attr("font-family", FONT).attr("font-size", 29).attr("fill", "#000")
  .text("% Constituent In Exhaust");

// Legend
const legend = svg.append("g");
legend.append("rect")
  .attr("x", 920.5).attr("y", 11.5).attr("width", 240).attr("height", 87)
  .attr("fill", "#fff").attr("stroke", "#333").attr("stroke-width", 1);
const legendTextX = [980, 974, 981];
seriesNames.forEach((name, i) => {
  const cy = 27 + i * 28;
  legend.append("rect")
    .attr("x", 945).attr("y", cy - 3).attr("width", 6).attr("height", 6)
    .attr("fill", seriesColors[i]);
  legend.append("text")
    .attr("x", legendTextX[i]).attr("y", cy + 8)
    .attr("font-family", FONT).attr("font-size", 22).attr("fill", "#000")
    .text(name);
});
</script>
</body>
</html>
